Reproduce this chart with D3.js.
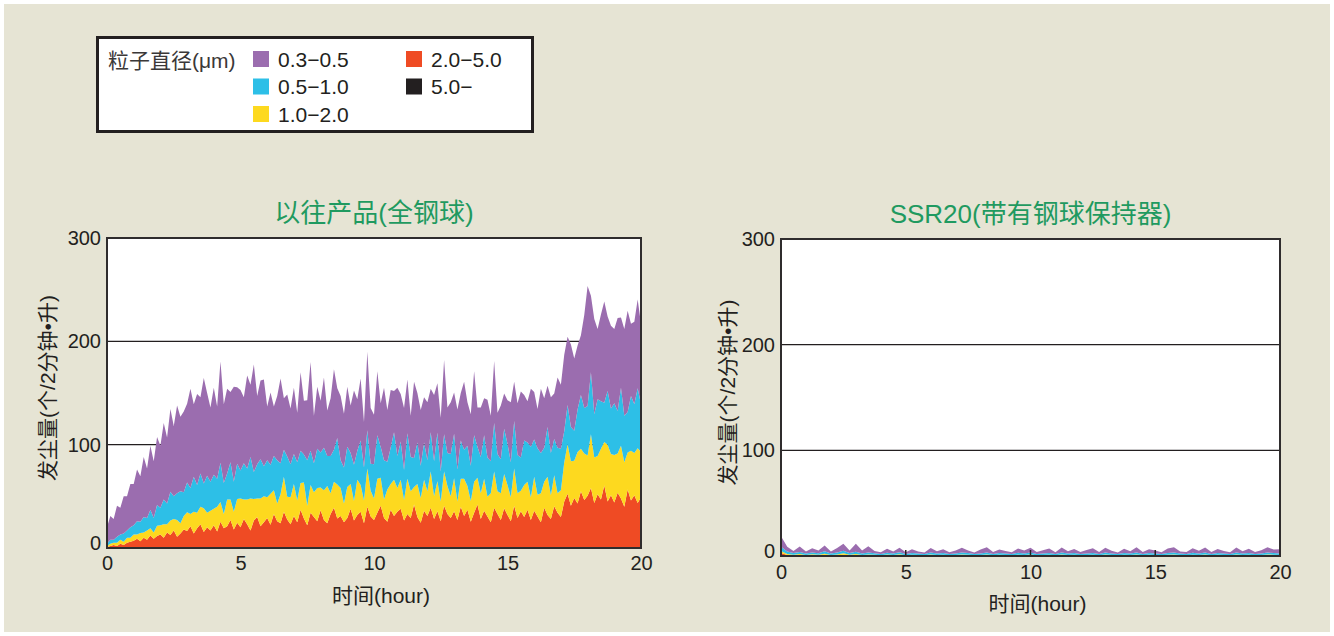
<!DOCTYPE html>
<html>
<head>
<meta charset="utf-8">
<script src="https://cdn.jsdelivr.net/npm/d3@7"></script>
<style>
body { margin: 0; background: #ffffff; }
svg text { font-family: "Liberation Sans", "Noto Sans CJK SC", sans-serif; fill: #231f20; }
</style>
</head>
<body>
<svg id="dust_chart" width="1334" height="636"></svg>
<script>

// legend / axes
var particle_sizes = ["0.3\u22120.5", "0.5\u22121.0", "1.0\u22122.0", "2.0\u22125.0", "5.0\u2212"];
var size_colors = ["#9b6daf", "#2dbfe7", "#fdd91f", "#ef4b24", "#231f20"];
var hour_ticks = [0, 5, 10, 15, 20];
var count_ticks = [0, 100, 200, 300];

// old product (all steel balls), one sample every 0.125 h, 8 per row = 1 hour
var old_p03 = [
 16,23,20,30,26,36,33,42,
 40,50,44,58,48,62,55,66,
 60,74,64,80,68,85,72,78,
 76,96,70,88,74,102,80,72,
 84,70,98,76,82,68,92,74,
 78,64,90,70,104,66,76,84,
 52,70,48,62,82,50,60,54,
 64,48,76,52,58,86,46,60,
 50,68,44,56,78,48,62,52,
 58,46,72,50,60,44,76,54,
 48,62,42,70,50,56,40,66,
 46,60,52,40,74,48,54,44,
 56,42,64,48,52,72,44,50,
 40,58,46,66,42,50,62,38,
 48,36,56,44,60,40,52,34,
 42,58,38,50,64,44,40,56,
 46,38,62,48,40,54,44,68,
 62,74,66,80,70,62,58,90,
 116,74,92,68,84,98,72,80,
 72,90,68,84,98,70,80,86,
 78];
var old_p05 = [
 2,4,3,6,5,8,7,10,
 9,13,11,15,12,18,14,20,
 17,24,20,28,22,26,31,23,
 29,25,34,27,32,24,36,28,
 33,27,38,30,25,36,29,34,
 27,35,30,40,26,33,38,29,
 36,28,33,42,30,26,39,32,
 29,37,31,27,44,33,28,38,
 34,41,29,36,31,45,27,35,
 39,30,35,28,43,32,37,26,
 33,42,30,38,27,35,46,31,
 37,29,44,33,28,40,31,36,
 30,38,34,47,29,36,32,41,
 43,31,37,28,39,34,45,30,
 35,42,38,31,47,36,33,44,
 40,34,46,37,32,43,38,49,
 36,45,39,33,48,41,35,44,
 40,30,38,33,29,41,52,44,
 48,60,42,55,46,38,52,44,
 50,41,56,45,39,53,47,58,
 46];
var old_p10 = [
 1,2,2,3,4,3,5,4,
 6,4,8,5,9,7,6,10,
 9,13,8,14,11,16,10,13,
 18,12,21,15,17,23,14,19,
 16,24,19,14,26,20,17,23,
 28,19,24,31,21,18,27,25,
 20,30,23,17,28,34,22,26,
 31,21,26,35,19,27,24,32,
 22,29,36,20,25,33,27,18,
 30,24,19,34,26,22,37,25,
 21,33,27,18,31,25,35,23,
 28,20,34,26,17,32,24,30,
 24,35,22,29,19,33,27,21,
 32,18,27,36,23,20,30,26,
 25,31,19,28,35,22,26,33,
 29,23,36,24,20,31,27,22,
 33,21,28,25,37,23,30,19,
 26,38,48,43,36,50,41,45,
 39,52,44,37,49,42,55,40,
 46,38,51,43,36,48,41,53,
 44];
var old_p20 = [
 1,2,3,2,4,3,5,6,
 7,9,6,10,8,12,9,11,
 13,10,15,12,17,11,14,18,
 16,21,14,19,23,15,20,17,
 22,16,25,19,21,27,18,24,
 20,28,23,17,26,30,21,25,
 29,22,33,26,24,35,27,23,
 31,25,37,28,22,34,30,26,
 36,27,24,33,39,28,31,25,
 29,38,26,32,35,24,40,30,
 27,34,41,29,25,37,31,35,
 38,26,33,29,42,30,24,36,
 31,39,28,35,26,41,33,29,
 35,27,40,31,37,25,34,42,
 28,36,30,25,39,33,27,38,
 32,26,41,29,35,30,37,27,
 36,30,25,39,32,28,40,34,
 30,45,52,41,48,43,55,46,
 50,58,43,52,47,60,45,51,
 44,53,48,40,56,46,51,43,
 49];
var old_p50 = [
 0,0,0,0,0,0,0,0,
 0,0,0.5,0,0,0,0,0.5,
 0,0,0,0.5,0,0,0,0,
 0.5,0,0,0,0,0.5,0,0,
 0,0,0.5,0,0,0,0,0.5,
 0,0,0,0,0.5,0,0,0,
 0,0.5,0,0,0,0,0.5,0,
 0,0,0,0.5,0,0,0,0,
 0.5,0,0,0,0,0.5,0,0,
 0,0,0.5,0,0,0,0,0.5,
 0,0,0,0,0.5,0,0,0,
 0,0.5,0,0,0,0,0.5,0,
 0,0,0,0.5,0,0,0,0,
 0.5,0,0,0,0,0.5,0,0,
 0,0,0.5,0,0,0,0,0.5,
 0,0,0,0,0.5,0,0,0,
 0,0.5,0,0,0,0,0.5,0,
 0,0,0.5,0,0.5,0,0,0.5,
 0.5,0,0.5,0,0,0.5,0,0,
 0,0.5,0,0,0.5,0,0,0.5,
 0];

// SSR20 (with ball cage), one sample every 0.25 h, 10 per row
var ssr_p03 = [
 10.0,4.5,2.0,5.2,1.8,3.9,2.4,5.5,1.9,4.2,
 6.5,2.3,7.5,2.8,6.0,2.1,1.6,3.8,1.9,4.4,
 1.5,3.6,2.0,1.4,4.2,2.2,3.5,1.6,2.9,4.6,
 2.3,1.5,3.8,4.9,1.8,3.3,2.4,1.6,4.1,2.7,
 4.5,1.7,3.0,4.3,1.6,4.8,2.1,3.7,1.8,3.2,
 4.4,1.9,4.6,2.5,1.5,3.9,2.2,5.0,1.8,3.6,
 2.8,1.6,4.2,4.9,2.0,1.8,4.3,2.6,4.7,1.9,
 3.8,2.4,1.6,4.8,2.2,3.9,1.8,3.1,4.9,3.3,
 4.0];
var ssr_p05 = [
 4.0,2.2,1.6,2.0,1.4,1.8,1.5,2.3,1.3,1.9,
 2.5,1.6,2.1,1.4,1.8,1.5,1.2,1.7,1.4,1.9,
 1.2,1.6,1.3,1.1,1.8,1.3,1.6,1.2,1.4,1.8,
 1.5,1.1,1.4,1.8,1.2,1.6,1.3,1.1,1.7,1.4,
 1.8,1.2,1.4,1.6,1.1,1.8,1.3,1.6,1.2,1.4,
 1.6,1.2,1.8,1.4,1.1,1.6,1.3,1.8,1.2,1.6,
 1.4,1.1,1.6,1.8,1.3,1.2,1.7,1.4,1.8,1.2,
 1.6,1.4,1.1,1.8,1.3,1.6,1.2,1.4,1.8,1.5,
 1.4];
var ssr_p10 = [
 2.0,1.0,0.6,0.9,0.5,0.8,0.6,1.0,0.5,0.7,
 1.2,0.6,0.9,0.5,0.7,0.6,0.4,0.7,0.5,0.8,
 0.4,0.6,0.5,0.4,0.7,0.5,0.6,0.4,0.5,0.7,
 0.6,0.4,0.5,0.7,0.4,0.6,0.5,0.4,0.6,0.5,
 0.7,0.4,0.5,0.6,0.4,0.7,0.5,0.6,0.4,0.5,
 0.6,0.4,0.7,0.5,0.4,0.6,0.5,0.7,0.4,0.6,
 0.5,0.4,0.6,0.7,0.5,0.4,0.6,0.5,0.7,0.4,
 0.6,0.5,0.4,0.7,0.5,0.6,0.4,0.5,0.7,0.6,
 0.5];
var ssr_p20 = [
 2.0,0.8,0.5,0.7,0.4,0.6,0.5,0.8,0.4,0.6,
 0.9,0.5,0.7,0.4,0.6,0.5,0.3,0.5,0.4,0.6,
 0.3,0.5,0.4,0.3,0.6,0.4,0.5,0.3,0.4,0.6,
 0.5,0.3,0.4,0.6,0.3,0.5,0.4,0.3,0.5,0.4,
 0.6,0.3,0.4,0.5,0.3,0.6,0.4,0.5,0.3,0.4,
 0.5,0.3,0.6,0.4,0.3,0.5,0.4,0.6,0.3,0.5,
 0.4,0.3,0.5,0.6,0.4,0.3,0.5,0.4,0.6,0.3,
 0.5,0.4,0.3,0.6,0.4,0.5,0.3,0.4,0.6,0.5,
 0.4];
var ssr_p50 = [
 0.8,0.2,0.1,0.3,0.1,0.2,0.1,0.3,0.1,0.2,
 0.4,0.1,0.3,0.1,0.2,0.1,0.1,0.2,0.1,0.2,
 0.1,0.2,0.1,0.1,0.2,0.1,0.2,0.1,0.1,0.2,
 0.2,0.1,0.1,0.2,0.1,0.2,0.1,0.1,0.2,0.1,
 0.2,0.1,0.1,0.2,0.1,0.2,0.1,0.2,0.1,0.1,
 0.2,0.1,0.2,0.1,0.1,0.2,0.1,0.2,0.1,0.2,
 0.1,0.1,0.2,0.2,0.1,0.1,0.2,0.1,0.2,0.1,
 0.2,0.1,0.1,0.2,0.1,0.2,0.1,0.1,0.2,0.2,
 0.1];


var svg = d3.select("#dust_chart");

// page background
svg.append("rect")
	.attr("x", 4).attr("y", 4)
	.attr("width", 1326).attr("height", 628)
	.attr("fill", "#e6e4d4");


function draw_legend() {
	var lg = svg.append("g").attr("id", "legend");

	lg.append("rect")
		.attr("x", 97.5).attr("y", 37.5)
		.attr("width", 435).attr("height", 94)
		.attr("fill", "#ffffff")
		.attr("stroke", "#231f20")
		.attr("stroke-width", 3);

	lg.append("text")
		.attr("x", 108).attr("y", 68)
		.style("font-size", "21px")
		.style("fill", "#3b3838")
		.text("粒子直径(μm)");

	// first column 3 items, second column 2 items
	var item = lg.selectAll(".legend_item")
		.data(particle_sizes)
		.enter().append("g")
		.attr("class", "legend_item")
		.attr("transform", function(d, i) {
			var col = i < 3 ? 0 : 1;
			var row = i < 3 ? i : i - 3;
			return "translate(" + (253 + col * 153) + "," + (51 + row * 27.5) + ")";
		});

	item.append("rect")
		.attr("width", 16).attr("height", 16)
		.attr("fill", function(d, i) { return size_colors[i]; });

	item.append("text")
		.attr("x", 25).attr("y", 15.5)
		.style("font-size", "21px")
		.text(function(d) { return d; });
}


function draw_panel(opt) {

	var w = opt.width, h = opt.height;
	var n = opt.series[0].length;

	var rows = d3.range(n).map(function(i) {
		var row = {hour: i * 20 / (n - 1)};
		opt.series.forEach(function(s, k) { row["s" + k] = s[i]; });
		return row;
	});

	var x = d3.scaleLinear().domain([0, 20]).range([0, w]);
	var y = d3.scaleLinear().domain([0, 300]).range([h, 0]);

	// stacked bottom (5.0-) to top (0.3-0.5)
	var stack = d3.stack().keys(["s4", "s3", "s2", "s1", "s0"]);
	var layers = stack(rows);

	var area = d3.area()
		.x(function(d) { return x(d.data.hour); })
		.y0(function(d) { return y(d[0]); })
		.y1(function(d) { return y(d[1]); });

	var g = svg.append("g")
		.attr("id", opt.id)
		.attr("transform", "translate(" + opt.left + "," + opt.top + ")");

	g.append("rect")
		.attr("width", w).attr("height", h)
		.attr("fill", "#ffffff");

	// grid lines
	g.selectAll(".grid")
		.data([100, 200])
		.enter().append("line")
		.attr("class", "grid")
		.attr("x1", 0).attr("x2", w)
		.attr("y1", function(d) { return y(d); })
		.attr("y2", function(d) { return y(d); })
		.attr("stroke", "#231f20")
		.attr("stroke-width", 1.4);

	var inner_ticks = function() {
		g.selectAll(".inner_tick")
			.data(hour_ticks.slice(1, 4))
			.enter().append("line")
			.attr("class", "inner_tick")
			.attr("x1", function(d) { return x(d); })
			.attr("x2", function(d) { return x(d); })
			.attr("y1", h).attr("y2", h - 6)
			.attr("stroke", "#231f20")
			.attr("stroke-width", 1.5);
	};

	if (!opt.ticks_on_top) inner_ticks();

	g.selectAll(".layer")
		.data(layers)
		.enter().append("path")
		.attr("class", "layer")
		.attr("fill", function(d) { return size_colors[+d.key.slice(1)]; })
		.attr("d", area);

	if (opt.ticks_on_top) inner_ticks();

	// frame
	g.append("rect")
		.attr("width", w).attr("height", h)
		.attr("fill", "none")
		.attr("stroke", "#2f2c2d")
		.attr("stroke-width", 2);

	// y axis
	var yAxis = d3.axisLeft(y).tickValues(count_ticks).tickSize(0).tickPadding(6);
	var ya = g.append("g").attr("class", "axis axis--y").call(yAxis);
	ya.select(".domain").remove();
	ya.selectAll("text")
		.style("font-size", "20px")
		.attr("dy", function(d) { return d === 0 ? "0.05em" : "0.32em"; });

	// x axis
	var xAxis = d3.axisBottom(x).tickValues(hour_ticks).tickSize(0).tickPadding(opt.xpad);
	var xa = g.append("g")
		.attr("class", "axis axis--x")
		.attr("transform", "translate(0," + h + ")")
		.call(xAxis);
	xa.select(".domain").remove();
	xa.selectAll("text").style("font-size", "20px");

	// title
	g.append("text")
		.attr("x", w / 2).attr("y", -16)
		.attr("text-anchor", "middle")
		.style("font-size", "26px")
		.style("fill", "#1f9a60")
		.text(opt.title);

	// axis titles
	g.append("text")
		.attr("transform", "translate(" + opt.ylab_x + "," + (h / 2 - 5) + ") rotate(-90)")
		.attr("text-anchor", "middle")
		.style("font-size", "21px")
		.text("发尘量(个/2分钟•升)");

	g.append("text")
		.attr("x", w / 2 + 7).attr("y", h + 55)
		.attr("text-anchor", "middle")
		.style("font-size", "21px")
		.text("时间(hour)");
}


draw_legend();

draw_panel({
	id: "old_product",
	left: 107, top: 238, width: 534, height: 310,
	series: [old_p03, old_p05, old_p10, old_p20, old_p50],
	title: "以往产品(全钢球)",
	ylab_x: -52,
	xpad: 8,
	ticks_on_top: false
});

draw_panel({
	id: "ssr20",
	left: 781, top: 239, width: 499, height: 317,
	series: [ssr_p03, ssr_p05, ssr_p10, ssr_p20, ssr_p50],
	title: "SSR20(带有钢球保持器)",
	ylab_x: -46,
	xpad: 9,
	ticks_on_top: true
});

</script>
</body>
</html>
